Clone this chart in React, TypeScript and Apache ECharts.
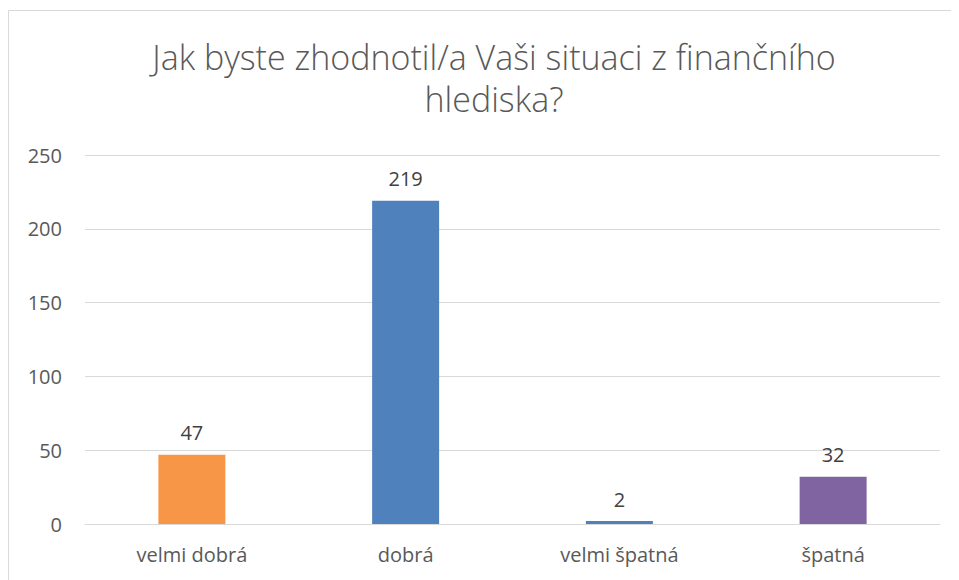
import React, { useEffect, useRef } from "react";
import * as echarts from "echarts";

const categories = ["velmi dobrá", "dobrá", "velmi špatná", "špatná"];
const values = [47, 219, 2, 32];
const barColors = ["#F79646", "#4F81BD", "#4F81BD", "#8064A2"];
const titleText = "Jak byste zhodnotil/a Vaši situaci z finančního\nhlediska?";

export default function App() {
  const ref = useRef<HTMLDivElement>(null);
  useEffect(() => {
    if (!ref.current) return;
    const chart = echarts.init(ref.current, undefined, { renderer: "svg" });
    chart.setOption({
      animation: false,
      backgroundColor: "#ffffff",
      graphic: [
        {
          type: "rect",
          shape: { x: 0.5, y: 2.5, width: 2000, height: 2000 },
          style: { fill: "none", stroke: "#d9d9d9", lineWidth: 1 },
          silent: true,
        },
      ],
      title: {
        text: titleText,
        left: 481,
        top: 23,
        textAlign: "center",
        textStyle: {
          fontFamily: "Open Sans",
          fontWeight: 300,
          fontSize: 34,
          color: "#595959",
          lineHeight: 42,
        },
      },
      grid: { left: 77, right: 19, top: 147, bottom: 56 },
      xAxis: {
        type: "category",
        data: categories,
        axisTick: { show: false },
        axisLine: { lineStyle: { color: "#d9d9d9", width: 1 } },
        axisLabel: {
          color: "#595959",
          fontFamily: "Open Sans",
          fontSize: 20,
          margin: 20,
        },
      },
      yAxis: {
        type: "value",
        min: 0,
        max: 250,
        interval: 50,
        axisLine: { show: false },
        axisTick: { show: false },
        splitLine: { lineStyle: { color: "#d9d9d9", width: 1 } },
        axisLabel: {
          color: "#595959",
          fontFamily: "Open Sans",
          fontSize: 20,
          margin: 23,
        },
      },
      series: [
        {
          type: "bar",
          barWidth: 67,
          data: values.map((v, i) => ({ value: v, itemStyle: { color: barColors[i] } })),
          label: {
            show: true,
            position: "top",
            distance: 12,
            color: "#404040",
            fontFamily: "Open Sans",
            fontSize: 20,
          },
        },
      ],
    });
    return () => chart.dispose();
  }, []);
  return <div ref={ref} style={{ width: 951, height: 572 }} />;
}
